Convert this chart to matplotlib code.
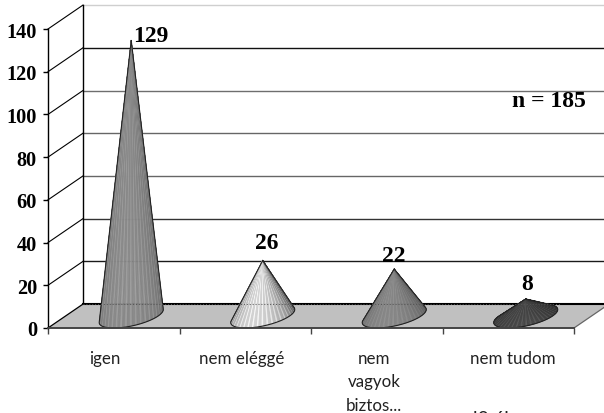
import matplotlib
matplotlib.use('Agg')
import matplotlib.pyplot as plt
import numpy as np

categories = ['igen', 'nem eléggé', 'nem\nvagyok\nbiztos...', 'nem tudom']
values = [129, 26, 22, 8]
y_ticks = [0, 20, 40, 60, 80, 100, 120, 140]
grid_colors = ['#1a1a1a', '#333333', '#666666', '#666666', '#6e6e6e', '#111111', '#cfcfcf']

# cone shading: mid grey, highlight strength, stripe strength
cone_grey = [0.48, 0.50, 0.42, 0.24]
cone_amp = [0.08, 0.38, 0.12, 0.05]
cone_stripe = [0.05, 0.10, 0.03, 0.05]

# how far the depth of the chart goes, in data units
depth_x = 0.266
depth_y = 11.2
half_width = 0.204

serif = 'Liberation Serif'

fig = plt.figure(figsize=(6.04, 4.14), dpi=100)
ax = fig.add_axes([48 / 604, 85 / 414, 526 / 604, 299 / 414])
ax.set_xlim(0, 4)
ax.set_ylim(0, 140)
ax.patch.set_visible(False)


def draw_cone(i, value):
    """Draw one cone standing in the middle of the floor."""
    cx = i + 0.5 + depth_x / 2
    cy = depth_y / 2
    apex = np.array([cx, value + cy])
    t = np.linspace(0, 2 * np.pi, 241)
    px = cx + half_width * np.cos(t) + depth_x / 2 * np.sin(t)
    py = cy + depth_y / 2 * np.sin(t)

    # silhouette in screen units, so the tangents come out right
    sx, sy = ax.transData.transform(np.column_stack([px, py])).T
    ax_, ay_ = ax.transData.transform(apex)
    ang = np.unwrap(np.arctan2(sy - ay_, sx - ax_) + np.pi / 2)
    first = np.argmin(ang[:-1])
    last = np.argmax(ang[:-1])
    if first <= last:
        idx = np.arange(first, last + 1)
    else:
        idx = np.r_[first:240, 0:last + 1]
    if (py[idx] > cy).mean() > 0.5:
        idx = np.r_[last:240, 0:first + 1] if first <= last else np.arange(last, first + 1)

    for n, (a, b) in enumerate(zip(idx[:-1], idx[1:])):
        shade = cone_grey[i] + cone_amp[i] * np.cos(t[a] + np.pi / 2 - 0.3)
        shade += cone_stripe[i] * (1 if n % 6 < 2 else -0.5)
        shade = float(np.clip(shade, 0, 1))
        ax.fill([apex[0], px[a], px[b]], [apex[1], py[a], py[b]],
                color=(shade, shade, shade), lw=0.3, zorder=4, clip_on=False)

    ax.plot(np.r_[apex[0], px[idx], apex[0]], np.r_[apex[1], py[idx], apex[1]],
            color='#222222', lw=0.8, zorder=5, clip_on=False)


# side wall and back wall
for v, col in zip(y_ticks[1:], grid_colors):
    ax.plot([depth_x, 4 + depth_x], [v + depth_y, v + depth_y], color=col, lw=1.0,
            zorder=1, clip_on=False)
for v in y_ticks[1:]:
    ax.plot([0, depth_x], [v, v + depth_y], color='black', lw=0.8, zorder=1, clip_on=False)
ax.plot([depth_x, depth_x], [depth_y, 140 + depth_y], color='black', lw=1.0, zorder=2, clip_on=False)

# floor
ax.fill([0, 4, 4 + depth_x, depth_x], [0, 0, depth_y, depth_y], color='#c0c0c0', lw=0,
        zorder=2, clip_on=False)
ax.plot([depth_x, 4 + depth_x], [depth_y, depth_y], color='black', lw=1.5, zorder=3, clip_on=False)
ax.plot([0, depth_x], [0, depth_y], color='black', lw=0.9, zorder=3, clip_on=False)
ax.plot([4, 4 + depth_x], [0, depth_y], color='#666666', lw=0.9, zorder=3, clip_on=False)

for i, v in enumerate(values):
    draw_cone(i, v)

# the back floor edge shows faintly through the cones
ax.plot([depth_x, 3.9], [depth_y, depth_y], color='#555555', lw=0.7, ls=(0, (1, 2)), zorder=6,
        clip_on=False)

# axes
for s in ['top', 'right']:
    ax.spines[s].set_visible(False)
ax.spines['left'].set_linewidth(1.0)
ax.spines['bottom'].set_linewidth(1.4)
ax.spines['bottom'].set_color('#444444')
ax.spines['bottom'].set_zorder(7)
ax.set_xticks(range(5))
ax.set_xticklabels([])
ax.set_yticks(y_ticks)
ax.set_yticklabels([str(v) for v in y_ticks], family=serif, weight='bold', fontsize=14.6)
ax.tick_params(axis='x', length=4, width=1, color='#444444')
ax.tick_params(axis='y', length=3.6, width=1, pad=4.4)

# category labels, placed by hand in the original too
label_shift = [-9, -4, -3, 5]
for i, lab in enumerate(categories):
    ax.annotate(lab, (i + 0.5, 0), xytext=(label_shift[i] * 0.72, -16), textcoords='offset points',
                ha='center', va='top', family='Lato', fontsize=12.2, color='#222222',
                linespacing=1.55, annotation_clip=False)

# value labels
value_shift = [(14.4, 3.5), (2.6, 13), (-0.4, 9.8), (1, 11)]
for i, v in enumerate(values):
    ax.annotate(str(v), (i + 0.5 + depth_x / 2, v + depth_y / 2), xytext=value_shift[i],
                textcoords='offset points', ha='center', va='center', family=serif,
                weight='bold', fontsize=17, color='black', annotation_clip=False)

ax.text(0.9525, 0.76, 'n = 185', transform=ax.transAxes, family=serif, weight='bold',
        fontsize=17, ha='center', va='center', color='black')

# caption below the chart, cut off by the bottom edge of the picture
fig.text(473 / 604, 3 / 414, 'l0 él', family='Lato', fontsize=14, color='#222222',
         ha='left', va='top')

fig.savefig('out.png', dpi=100)
